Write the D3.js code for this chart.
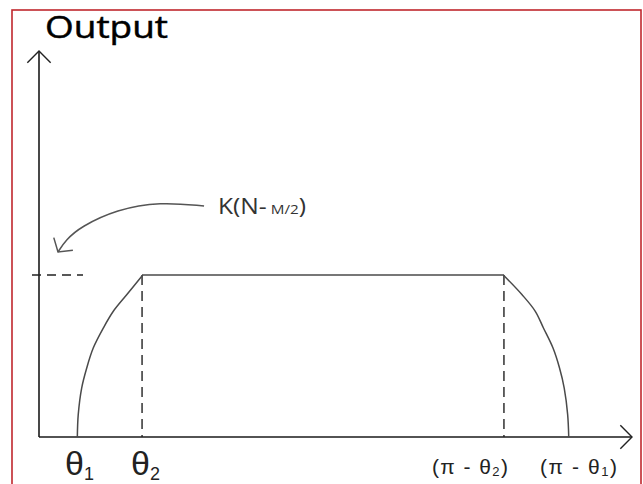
<!DOCTYPE html>
<html>
<head>
<meta charset="utf-8">
<script src="https://cdn.jsdelivr.net/npm/d3@7"></script>
<style>
  html, body { margin: 0; padding: 0; background: #fff; }
  svg { display: block; }
</style>
</head>
<body>
<svg id="chart" width="643" height="484"></svg>
<script>
// Conduction angles (radians) and the normalised output level K(N - M/2) = 1
const theta1 = 0.21;
const theta2 = 0.57;
const plateau = 1.0;

// Rising edge between θ1 and θ2
const riseAngle  = [0.212, 0.217, 0.236, 0.264, 0.300, 0.356, 0.411, 0.485, 0.574];
const riseOutput = [0.000, 0.138, 0.302, 0.426, 0.549, 0.673, 0.776, 0.878, 1.000];

// Falling edge between (π - θ2) and (π - θ1)
const fallAngle  = [2.568, 2.672, 2.745, 2.790, 2.843, 2.879, 2.905, 2.924, 2.930];
const fallOutput = [1.000, 0.878, 0.776, 0.673, 0.549, 0.426, 0.302, 0.138, 0.000];

// Axis tick positions and their labels
const tickValues = [theta1, theta2, Math.PI - theta2, Math.PI - theta1];
const tickMain   = ["θ", "θ", "(π - θ", "(π - θ"];
const tickSub    = ["1", "2", "2", "1"];
const tickTail   = ["", "", ")", ")"];

// Curved pointer from the level label to the y axis (angle, output)
const pointerAngle  = [0.913, 0.669, 0.431, 0.227, 0.149, 0.105];
const pointerOutput = [1.426, 1.452, 1.405, 1.296, 1.216, 1.142];

const svg = d3.select("#chart");

const x = d3.scaleLinear().domain([0, Math.PI]).range([39, 607]);
const y = d3.scaleLinear().domain([0, 1]).range([437, 275]);

const axisRight = 632;   // end of the horizontal axis arrow
const axisTop = 51;      // end of the vertical axis arrow

// Frame
svg.append("rect")
  .attr("x", 12).attr("y", 10)
  .attr("width", 629).attr("height", 500)
  .attr("fill", "none")
  .attr("stroke", "#c0272d")
  .attr("stroke-width", 1.6);

// Chevron markers
const defs = svg.append("defs");
function chevron(id, len, half, color, width) {
  const dx = len * Math.cos(half), dy = len * Math.sin(half);
  defs.append("marker")
    .attr("id", id)
    .attr("markerUnits", "userSpaceOnUse")
    .attr("viewBox", `${-len - 2} ${-dy - 2} ${len + 4} ${2 * dy + 4}`)
    .attr("refX", 0).attr("refY", 0)
    .attr("markerWidth", len + 4).attr("markerHeight", 2 * dy + 4)
    .attr("orient", "auto")
    .append("path")
    .attr("d", `M${-dx},${-dy}L0,0L${-dx},${dy}`)
    .attr("fill", "none")
    .attr("stroke", color)
    .attr("stroke-width", width);
}
chevron("axisHead", 16.5, Math.PI / 4, "#222", 1.4);
chevron("pointerHead", 15, 0.87, "#555", 1.5);

// Axes
svg.append("line")
  .attr("x1", x(0)).attr("y1", y(0))
  .attr("x2", axisRight).attr("y2", y(0))
  .attr("stroke", "#1a1a1a").attr("stroke-width", 1.6)
  .attr("marker-end", "url(#axisHead)");
svg.append("line")
  .attr("x1", x(0)).attr("y1", y(0))
  .attr("x2", x(0)).attr("y2", axisTop)
  .attr("stroke", "#1a1a1a").attr("stroke-width", 1.6)
  .attr("marker-end", "url(#axisHead)");

// Title
svg.append("text")
  .attr("x", 45).attr("y", 38)
  .attr("font-family", "'Open Sans', sans-serif")
  .attr("font-size", 31)
  .attr("fill", "#000")
  .attr("stroke", "#000")
  .attr("stroke-width", 0.5)
  .attr("textLength", 123)
  .attr("lengthAdjust", "spacingAndGlyphs")
  .text("Output");

// Dashed guides: plateau level on the y axis and the two inner angles
const dashed = svg.append("g")
  .attr("stroke", "#222")
  .attr("stroke-width", 1.4)
  .attr("fill", "none");
dashed.append("line")
  .attr("x1", x(0) - 7).attr("x2", x(0) + 44)
  .attr("y1", y(plateau)).attr("y2", y(plateau))
  .attr("stroke-dasharray", "9,6");
[theta2, Math.PI - theta2].forEach(a => {
  dashed.append("line")
    .attr("x1", x(a)).attr("x2", x(a))
    .attr("y1", y(plateau)).attr("y2", y(0))
    .attr("stroke-dasharray", "10,6");
});

// Output profile
const ramp = d3.line()
  .x(d => x(d[0]))
  .y(d => y(d[1]))
  .curve(d3.curveCatmullRom.alpha(0.5));
const flat = d3.line()
  .x(d => x(d[0]))
  .y(d => y(d[1]));

const profile = svg.append("g")
  .attr("fill", "none")
  .attr("stroke", "#4a4a4a")
  .attr("stroke-width", 1.5);
profile.append("path").attr("d", ramp(d3.zip(riseAngle, riseOutput)));
profile.append("path").attr("d", flat([[theta2, plateau], [Math.PI - theta2, plateau]]));
profile.append("path").attr("d", ramp(d3.zip(fallAngle, fallOutput)));

// Level label with its curved pointer
svg.append("path")
  .attr("d", d3.line().x(d => x(d[0])).y(d => y(d[1])).curve(d3.curveBasis)(d3.zip(pointerAngle, pointerOutput)))
  .attr("fill", "none")
  .attr("stroke", "#555")
  .attr("stroke-width", 1.5)
  .attr("marker-end", "url(#pointerHead)");

const level = svg.append("text")
  .attr("x", 218).attr("y", 214)
  .attr("font-family", "'Open Sans', sans-serif")
  .attr("fill", "#333")
  .attr("textLength", 88)
  .attr("lengthAdjust", "spacingAndGlyphs");
level.append("tspan").attr("font-size", 21).text("K(N-");
level.append("tspan").attr("font-size", 13).text(" M/2");
level.append("tspan").attr("font-size", 21).text(")");

// Tick labels under the horizontal axis
const labelStyle = [
  { dx: -12, size: 34, sub: 18, subDy: 5, len: null },
  { dx: -11, size: 34, sub: 18, subDy: 5, len: null },
  { dx: -72, size: 21, sub: 13, subDy: 2, len: 76 },
  { dx: -29, size: 21, sub: 13, subDy: 2, len: 77 }
];
tickValues.forEach((v, i) => {
  const s = labelStyle[i];
  const t = svg.append("text")
    .attr("x", x(v) + s.dx)
    .attr("y", i < 2 ? 475 : 474)
    .attr("font-family", "'Liberation Sans', Arial, sans-serif")
    .attr("fill", "#222");
  if (s.len) t.attr("textLength", s.len);
  t.append("tspan").attr("font-size", s.size).text(tickMain[i]);
  t.append("tspan").attr("font-size", s.sub).attr("dy", s.subDy).text(tickSub[i]);
  if (tickTail[i]) t.append("tspan").attr("font-size", s.size).attr("dy", -s.subDy).text(tickTail[i]);
});
</script>
</body>
</html>
